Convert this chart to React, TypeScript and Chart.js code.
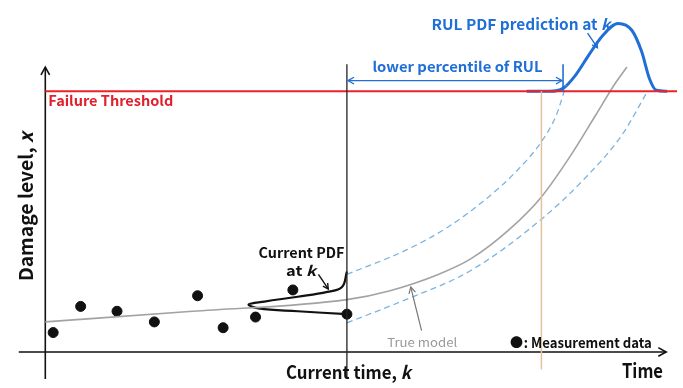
import React, { useEffect, useRef } from "react";
import { Chart, registerables } from "chart.js";
Chart.register(...registerables);

const FAMILY = '"Noto Sans CJK KR", "Noto Sans", sans-serif';

// Measurement data (time, damage level)
const measureTime = [0.8, 3.6, 7.3, 11.1, 15.5, 18.1, 21.4, 25.2, 30.7];
const measureDamage = [2.0, 4.7, 4.2, 3.1, 5.8, 2.5, 3.6, 6.4, 3.9];

// True model curve
const modelTime = [0, 15, 30.7, 35, 40, 43.3, 47.3, 50.5, 53.3, 56, 58, 59.2];
const modelDamage = [3.1, 4.2, 5.4, 6.3, 8.0, 9.6, 12.7, 16.0, 20.0, 24.4, 27.7, 29.4];

// Prediction bounds (dashed)
const upperTime = [30.7, 36.7, 41, 45, 48, 50.5, 52, 53];
const upperDamage = [8.0, 10.5, 12.9, 15.9, 18.7, 21.7, 24.4, 27.5];
const lowerTime = [30.7, 36.7, 43.3, 50.5, 55, 58.7, 61.3];
const lowerDamage = [3.0, 5.4, 8.4, 13.7, 18.0, 22.4, 26.9];

// RUL PDF curve sitting on the threshold
const rulTime = [49, 51.3, 52.7, 54, 55.3, 56.7, 58.3, 59.7, 60.7, 61.5, 62.2, 63.3];
const rulDamage = [26.9, 26.9, 27.2, 28.6, 30.6, 32.6, 33.9, 33.2, 31.0, 28.2, 27.0, 26.9];

// Current PDF at k
const pdfTime = [30.7, 30.2, 28.7, 25.7, 22.3, 20.7, 21.7, 25.7, 30.7];
const pdfDamage = [8.3, 6.7, 6.2, 5.7, 5.2, 4.9, 4.5, 4.2, 3.9];

const THRESHOLD = 26.9;
const CURRENT_K = 30.7;
const LOWER_PCT_T = 52.7;
const MARK_T = 50.5;

const pts = (xs: number[], ys: number[]) => xs.map((x, i) => ({ x, y: ys[i] }));

type Seg = { t: string; it?: boolean };

function drawRich(
  ctx: CanvasRenderingContext2D,
  segs: Seg[],
  left: number,
  cy: number,
  size: number,
  color: string,
  width?: number,
  weight = "bold",
  rotate = 0
) {
  ctx.save();
  const fonts = segs.map((s) => `${s.it ? "italic " : ""}${weight} ${size}px ${FAMILY}`);
  let total = 0;
  const ws = segs.map((s, i) => {
    ctx.font = fonts[i];
    const w = ctx.measureText(s.t).width;
    total += w;
    return w;
  });
  const sx = width ? width / total : 1;
  if (rotate) {
    ctx.translate(left, cy);
    ctx.rotate(rotate);
    ctx.translate(-(width || total) / 2, 0);
  } else {
    ctx.translate(left, cy);
  }
  ctx.scale(sx, 1);
  ctx.fillStyle = color;
  ctx.textBaseline = "middle";
  ctx.textAlign = "left";
  let x = 0;
  segs.forEach((s, i) => {
    ctx.font = fonts[i];
    ctx.fillText(s.t, x, 0);
    x += ws[i];
  });
  ctx.restore();
}

function arrowHead(ctx: CanvasRenderingContext2D, x1: number, y1: number, x2: number, y2: number, size: number) {
  const a = Math.atan2(y2 - y1, x2 - x1);
  ctx.beginPath();
  ctx.moveTo(x2 - size * Math.cos(a - 0.5), y2 - size * Math.sin(a - 0.5));
  ctx.lineTo(x2, y2);
  ctx.lineTo(x2 - size * Math.cos(a + 0.5), y2 - size * Math.sin(a + 0.5));
  ctx.stroke();
}

function arrow(ctx: CanvasRenderingContext2D, x1: number, y1: number, x2: number, y2: number, color: string, lw: number, size: number, both = false) {
  ctx.save();
  ctx.strokeStyle = color;
  ctx.lineWidth = lw;
  ctx.beginPath();
  ctx.moveTo(x1, y1);
  ctx.lineTo(x2, y2);
  ctx.stroke();
  arrowHead(ctx, x1, y1, x2, y2, size);
  if (both) arrowHead(ctx, x2, y2, x1, y1, size);
  ctx.restore();
}

const decorPlugin = {
  id: "decor",
  beforeDatasetsDraw(chart: any) {
    const ctx: CanvasRenderingContext2D = chart.ctx;
    const X = (v: number) => chart.scales.x.getPixelForValue(v);
    const Y = (v: number) => chart.scales.y.getPixelForValue(v);
    ctx.save();
    ctx.fillStyle = "#fff";
    ctx.fillRect(0, 0, chart.width, chart.height);
    // axes
    arrow(ctx, X(0), Y(-2.8), X(0), Y(29.4), "#111", 1.6, 9);
    arrow(ctx, X(-2.7), Y(0), X(63.2), Y(0), "#111", 1.6, 9);
    ctx.restore();
  },
  afterDatasetsDraw(chart: any) {
    const ctx: CanvasRenderingContext2D = chart.ctx;
    const X = (v: number) => chart.scales.x.getPixelForValue(v);
    const Y = (v: number) => chart.scales.y.getPixelForValue(v);
    const blue = "#1f6fd6";
    // lower percentile double arrow and tick
    arrow(ctx, X(CURRENT_K + 0.1), Y(28.0), X(LOWER_PCT_T - 0.1), Y(28.0), blue, 1.3, 7, true);
    ctx.save();
    ctx.strokeStyle = blue;
    ctx.lineWidth = 1.6;
    ctx.beginPath();
    ctx.moveTo(X(LOWER_PCT_T), Y(29.7));
    ctx.lineTo(X(LOWER_PCT_T), Y(THRESHOLD));
    ctx.stroke();
    ctx.restore();
    // pointer arrows
    arrow(ctx, X(27.8), Y(8.0), X(28.8), Y(6.5), "#111", 1.4, 6);
    arrow(ctx, X(55.2), Y(32.9), X(56.2), Y(31.4), blue, 1.4, 6);
    arrow(ctx, X(38.3), Y(2.2), X(37.2), Y(6.7), "#777", 1.2, 7);

    // texts
    drawRich(ctx, [{ t: "Failure Threshold" }], X(0.3), Y(25.9), 14, "#e0202c", 125);
    drawRich(ctx, [{ t: "RUL PDF prediction at " }, { t: "k", it: true }], X(39.3), Y(33.8), 15, blue, 179);
    drawRich(ctx, [{ t: "lower percentile of RUL" }], X(33.3), Y(29.4), 14, blue, 170);
    drawRich(ctx, [{ t: "Current PDF" }], X(21.7), Y(10.2), 14, "#111", 86);
    drawRich(ctx, [{ t: "at " }, { t: "k", it: true }], X(24.5), Y(8.4), 14, "#111", 30);
    drawRich(ctx, [{ t: "True model" }], X(34.8), Y(1.0), 12, "#999", 70, "normal");
    drawRich(ctx, [{ t: "●" }], X(47.3), Y(1.0), 13, "#111");
    drawRich(ctx, [{ t: ": Measurement data" }], X(48.7), Y(1.0), 14, "#111", 128);
    drawRich(ctx, [{ t: "Time" }], X(58.7), Y(-1.9), 20, "#111", 41);
    drawRich(ctx, [{ t: "Current time, " }, { t: "k", it: true }], X(24.5), Y(-2.1), 18, "#111", 125);
    drawRich(ctx, [{ t: "Damage level, " }, { t: "x", it: true }], X(-2.0), Y(15.0), 19, "#111", 149, "bold", -Math.PI / 2);
  },
};

export default function App() {
  const ref = useRef<HTMLCanvasElement>(null);
  useEffect(() => {
    const line = (data: any[], color: string, width: number, extra: any = {}) => ({
      data,
      borderColor: color,
      backgroundColor: color,
      borderWidth: width,
      pointRadius: 0,
      showLine: true,
      fill: false,
      ...extra,
    });
    const chart = new Chart(ref.current!, {
      type: "scatter",
      data: {
        datasets: [
          line(
            [{ x: MARK_T, y: THRESHOLD }, { x: MARK_T, y: -1.8 }],
            "#e2c29c",
            1.5
          ),
          line(
            [{ x: CURRENT_K, y: -2.8 }, { x: CURRENT_K, y: 29.7 }],
            "#222",
            1.3
          ),
          line([{ x: 0, y: THRESHOLD }, { x: 64.3, y: THRESHOLD }], "#e8232b", 2),
          line(pts(modelTime, modelDamage), "#a3a3a3", 1.6, { cubicInterpolationMode: "monotone" }),
          line(pts(upperTime, upperDamage), "#7ab4e2", 1.3, { borderDash: [6, 4], cubicInterpolationMode: "monotone" }),
          line(pts(lowerTime, lowerDamage), "#7ab4e2", 1.3, { borderDash: [6, 4], cubicInterpolationMode: "monotone" }),
          line(pts(rulTime, rulDamage), "#1f6fd6", 3, { cubicInterpolationMode: "monotone" }),
          line(pts(pdfTime, pdfDamage), "#111", 2.2, { tension: 0.4 }),
          {
            data: pts(measureTime, measureDamage),
            backgroundColor: "#111",
            borderColor: "#111",
            pointRadius: 5,
            showLine: false,
          },
        ],
      },
      options: {
        responsive: false,
        animation: false,
        events: [],
        layout: { padding: 0 },
        plugins: { legend: { display: false }, tooltip: { enabled: false } },
        scales: {
          x: { type: "linear", display: false, min: -4, max: 64.3 },
          y: { type: "linear", display: false, min: -3.1, max: 35.7 },
        },
      },
      plugins: [decorPlugin],
    });
    return () => chart.destroy();
  }, []);
  return (
    <div style={{ position: "fixed", left: 0, top: 0, width: 683, height: 388, background: "#fff" }}>
      <canvas ref={ref} width={683} height={388} style={{ display: "block" }} />
    </div>
  );
}
